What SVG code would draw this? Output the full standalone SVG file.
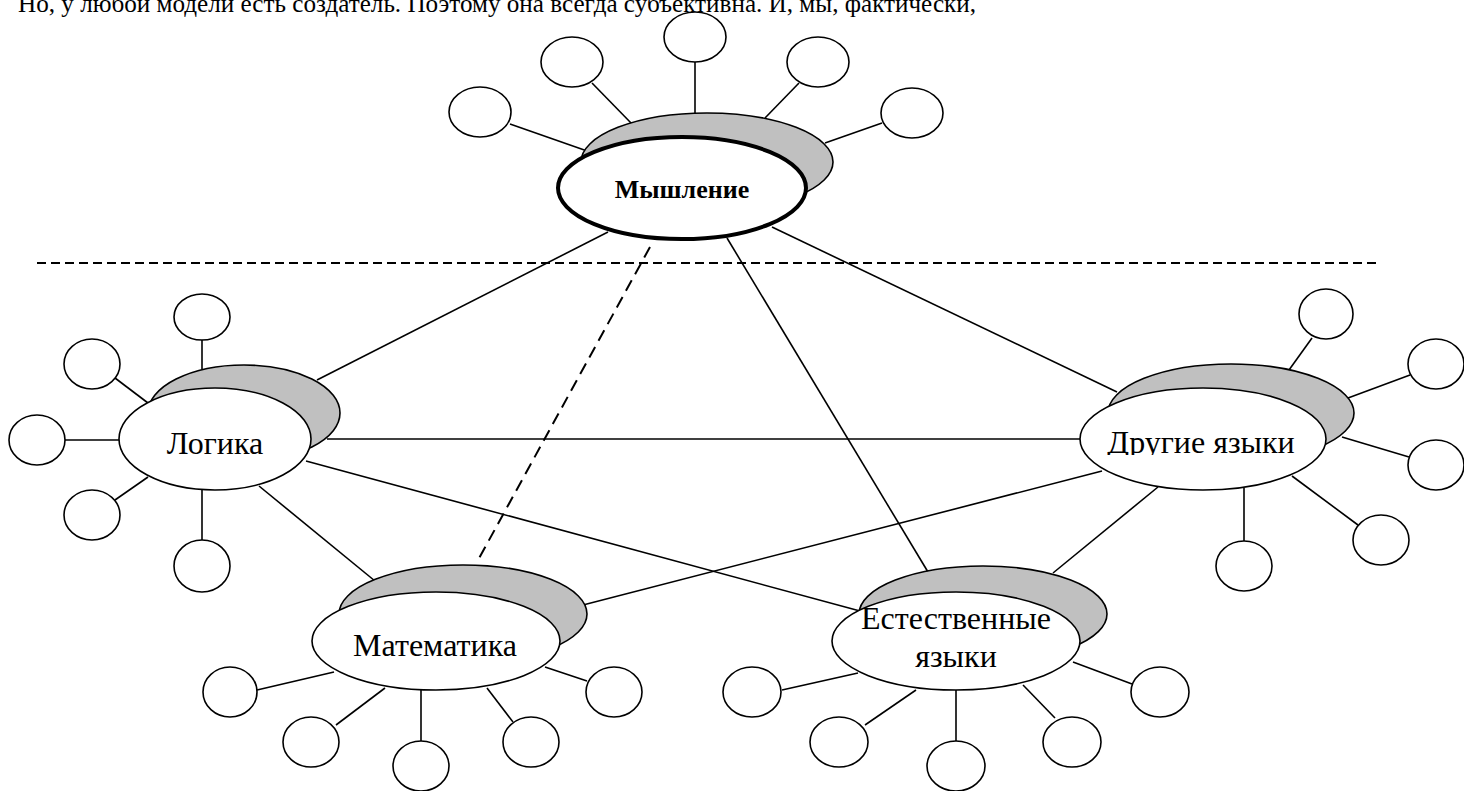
<svg xmlns="http://www.w3.org/2000/svg" width="1464" height="791" viewBox="0 0 1464 791">
<style>
.ln{stroke:#000;stroke-width:1.6;fill:none}
.dash{stroke:#000;stroke-width:2;fill:none;stroke-dasharray:9 5}
.dash2{stroke:#000;stroke-width:2;fill:none;stroke-dasharray:12 7}
.sh{fill:#c0c0c0;stroke:#000;stroke-width:1.6}
.wh{fill:#fff;stroke:#000;stroke-width:1.6}
.whb{fill:#fff;stroke:#000;stroke-width:4}
.sat{fill:#fff;stroke:#000;stroke-width:1.6}
.lbl{font-family:"Liberation Serif","Times New Roman",serif;font-size:32px;fill:#000;text-anchor:middle}
.lblb{font-family:"Liberation Serif","Times New Roman",serif;font-size:26px;font-weight:bold;fill:#000;text-anchor:middle}
.top{font-family:"Liberation Serif","Times New Roman",serif;font-size:26px;fill:#000}
</style>
<defs>
<clipPath id="clipDr"><rect x="1080" y="380" width="250" height="75"/></clipPath>
</defs>
<rect width="1464" height="791" fill="#fff"/>
<text class="top" x="18" y="12" textLength="958" lengthAdjust="spacingAndGlyphs">Но, у любой модели есть создатель. Поэтому она всегда субъективна. И, мы, фактически,</text>

<g id="connectors">
<line class="dash" x1="37" y1="263" x2="1377" y2="263"/>
<line class="ln" x1="608" y1="232" x2="317" y2="380"/>
<line class="ln" x1="727" y1="238" x2="928" y2="572"/>
<line class="ln" x1="772" y1="227" x2="1117" y2="392"/>
<line class="dash2" x1="650" y1="247" x2="477" y2="562"/>
<line class="ln" x1="327" y1="439" x2="1080" y2="439"/>
<line class="ln" x1="306" y1="461" x2="860" y2="611"/>
<line class="ln" x1="259" y1="486" x2="375" y2="581"/>
<line class="ln" x1="583" y1="605" x2="1102" y2="471"/>
<line class="ln" x1="1158" y1="487" x2="1053" y2="573"/>
<!-- spokes: Мышление -->
<line class="ln" x1="510" y1="124" x2="590" y2="152"/>
<line class="ln" x1="592" y1="83" x2="632" y2="124"/>
<line class="ln" x1="695" y1="62" x2="695" y2="113"/>
<line class="ln" x1="799" y1="83" x2="765" y2="118"/>
<line class="ln" x1="882" y1="123" x2="825" y2="143"/>
<!-- spokes: Логика -->
<line class="ln" x1="202" y1="340" x2="202" y2="369"/>
<line class="ln" x1="115" y1="378" x2="148" y2="403"/>
<line class="ln" x1="65" y1="440" x2="119" y2="440"/>
<line class="ln" x1="115" y1="500" x2="148" y2="477"/>
<line class="ln" x1="202" y1="490" x2="202" y2="540"/>
<!-- spokes: Математика -->
<line class="ln" x1="257" y1="690" x2="334" y2="672"/>
<line class="ln" x1="336" y1="725" x2="385" y2="688"/>
<line class="ln" x1="421" y1="690" x2="421" y2="741"/>
<line class="ln" x1="513" y1="722" x2="487" y2="688"/>
<line class="ln" x1="587" y1="681" x2="545" y2="667"/>
<!-- spokes: Естественные языки -->
<line class="ln" x1="782" y1="690" x2="858" y2="673"/>
<line class="ln" x1="865" y1="725" x2="916" y2="690"/>
<line class="ln" x1="956" y1="690" x2="956" y2="741"/>
<line class="ln" x1="1055" y1="718" x2="1023" y2="685"/>
<line class="ln" x1="1132" y1="684" x2="1073" y2="662"/>
<!-- spokes: Другие языки -->
<line class="ln" x1="1312" y1="338" x2="1289" y2="370"/>
<line class="ln" x1="1410" y1="375" x2="1348" y2="398"/>
<line class="ln" x1="1409" y1="457" x2="1342" y2="437"/>
<line class="ln" x1="1358" y1="525" x2="1292" y2="476"/>
<line class="ln" x1="1244" y1="488" x2="1244" y2="541"/>
</g>

<g id="node-myshlenie">
<ellipse class="sh" cx="707" cy="162" rx="126" ry="49"/>
<ellipse class="whb" cx="682" cy="188" rx="124" ry="51"/>
<text class="lblb" x="682" y="198">Мышление</text>
</g>
<g id="node-logika">
<ellipse class="sh" cx="244" cy="413" rx="96" ry="48"/>
<ellipse class="wh" cx="215" cy="439" rx="96" ry="51"/>
<text class="lbl" x="215" y="454">Логика</text>
</g>
<g id="node-matematika">
<ellipse class="sh" cx="463" cy="614" rx="124" ry="49"/>
<ellipse class="wh" cx="436" cy="641" rx="124" ry="49"/>
<text class="lbl" x="435" y="656">Математика</text>
</g>
<g id="node-estestvennye">
<ellipse class="sh" cx="983" cy="614" rx="124" ry="48"/>
<ellipse class="wh" cx="956" cy="641" rx="124" ry="49"/>
<text class="lbl" x="956" y="629">Естественные</text>
<text class="lbl" x="956" y="667">языки</text>
</g>
<g id="node-drugie">
<ellipse class="sh" cx="1231" cy="413" rx="123" ry="49"/>
<ellipse class="wh" cx="1203" cy="439" rx="123" ry="51"/>
<text class="lbl" x="1201" y="453" clip-path="url(#clipDr)">Другие языки</text>
</g>

<g id="sat-m1"><ellipse class="sat" cx="480" cy="112" rx="31" ry="25"/></g>
<g id="sat-m2"><ellipse class="sat" cx="572" cy="62" rx="31" ry="25"/></g>
<g id="sat-m3"><ellipse class="sat" cx="695" cy="37" rx="31" ry="25"/></g>
<g id="sat-m4"><ellipse class="sat" cx="818" cy="62" rx="31" ry="25"/></g>
<g id="sat-m5"><ellipse class="sat" cx="912" cy="113" rx="31" ry="25"/></g>

<g id="sat-l1"><ellipse class="sat" cx="202" cy="317" rx="28" ry="23"/></g>
<g id="sat-l2"><ellipse class="sat" cx="92" cy="364" rx="28" ry="25"/></g>
<g id="sat-l3"><ellipse class="sat" cx="37" cy="440" rx="28" ry="25"/></g>
<g id="sat-l4"><ellipse class="sat" cx="92" cy="515" rx="28" ry="25"/></g>
<g id="sat-l5"><ellipse class="sat" cx="202" cy="566" rx="28" ry="26"/></g>

<g id="sat-a1"><ellipse class="sat" cx="230" cy="692" rx="27" ry="25"/></g>
<g id="sat-a2"><ellipse class="sat" cx="311" cy="742" rx="28" ry="25"/></g>
<g id="sat-a3"><ellipse class="sat" cx="421" cy="766" rx="28" ry="25"/></g>
<g id="sat-a4"><ellipse class="sat" cx="531" cy="742" rx="28" ry="25"/></g>
<g id="sat-a5"><ellipse class="sat" cx="614" cy="692" rx="28" ry="25"/></g>

<g id="sat-e1"><ellipse class="sat" cx="752" cy="692" rx="29" ry="25"/></g>
<g id="sat-e2"><ellipse class="sat" cx="839" cy="742" rx="29" ry="25"/></g>
<g id="sat-e3"><ellipse class="sat" cx="956" cy="766" rx="29" ry="25"/></g>
<g id="sat-e4"><ellipse class="sat" cx="1072" cy="742" rx="29" ry="25"/></g>
<g id="sat-e5"><ellipse class="sat" cx="1160" cy="692" rx="29" ry="25"/></g>

<g id="sat-d1"><ellipse class="sat" cx="1326" cy="314" rx="27" ry="25"/></g>
<g id="sat-d2"><ellipse class="sat" cx="1436" cy="364" rx="28" ry="25"/></g>
<g id="sat-d3"><ellipse class="sat" cx="1436" cy="465" rx="28" ry="25"/></g>
<g id="sat-d4"><ellipse class="sat" cx="1381" cy="540" rx="28" ry="25"/></g>
<g id="sat-d5"><ellipse class="sat" cx="1244" cy="566" rx="28" ry="25"/></g>
</svg>
